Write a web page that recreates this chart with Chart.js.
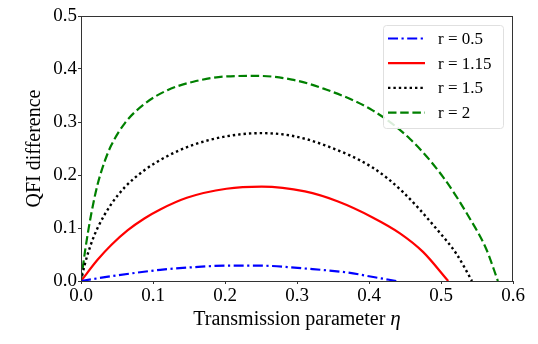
<!DOCTYPE html>
<html lang="en">
<head>
    <meta charset="UTF-8">
    <title>QFI difference</title>
    <script src="https://cdn.jsdelivr.net/npm/chart.js"></script>
    <style>
        html, body { margin: 0; padding: 0; background: #fff; }
        #wrap { width: 538px; height: 344px; }
    </style>
</head>
<body>
    <div id="wrap"><canvas id="qfiChart" width="538" height="344"></canvas></div>

    <script>
        // values
        const xTicks = [0, 0.1, 0.2, 0.3, 0.4, 0.5, 0.6];
        const yTicks = [0, 0.1, 0.2, 0.3, 0.4, 0.5];

        const etaR05 = [0, 0.042, 0.11, 0.156, 0.204, 0.246, 0.316, 0.37, 0.408, 0.438];
        const qfiR05 = [0, 0.009, 0.021, 0.026, 0.029, 0.029, 0.023, 0.016, 0.007, 0];

        const etaR115 = [0, 0.023, 0.042, 0.065, 0.088, 0.11, 0.147, 0.202, 0.251, 0.311, 0.357, 0.405, 0.443, 0.475, 0.51];
        const qfiR115 = [0, 0.04, 0.068, 0.096, 0.118, 0.135, 0.157, 0.174, 0.178, 0.169, 0.15, 0.12, 0.09, 0.055, 0];

        const etaR15 = [0, 0.005, 0.014, 0.023, 0.042, 0.061, 0.088, 0.119, 0.156, 0.202, 0.251, 0.293, 0.339, 0.405, 0.447, 0.494, 0.522, 0.543];
        const qfiR15 = [0, 0.03, 0.07, 0.1, 0.145, 0.177, 0.209, 0.235, 0.257, 0.273, 0.279, 0.274, 0.256, 0.214, 0.168, 0.098, 0.05, 0];

        const etaR2 = [0, 0.006, 0.014, 0.023, 0.033, 0.042, 0.061, 0.088, 0.12, 0.156, 0.202, 0.246, 0.293, 0.339, 0.405, 0.457, 0.503, 0.54, 0.563, 0.579];
        const qfiR2 = [0, 0.06, 0.125, 0.182, 0.226, 0.256, 0.298, 0.334, 0.36, 0.376, 0.386, 0.387, 0.38, 0.362, 0.322, 0.268, 0.196, 0.118, 0.06, 0];

        const seriesLabels = ['r = 0.5', 'r = 1.15', 'r = 1.5', 'r = 2'];

        const serif = "'Liberation Serif', 'DejaVu Serif', serif";

        function pts(xs, ys) {
            return xs.map((x, i) => ({ x: x, y: ys[i] }));
        }

        // frame round the plot, x title with italic eta, legend inside the axes
        const framePlugin = {
            id: 'frame',
            afterDraw(chart) {
                const ctx = chart.ctx;
                const a = chart.chartArea;
                ctx.save();
                ctx.strokeStyle = '#333';
                ctx.lineWidth = 1;
                ctx.strokeRect(a.left + 0.5, a.top + 0.5, a.right - a.left - 1, a.bottom - a.top);

                // x axis title
                const t1 = 'Transmission parameter ';
                const t2 = 'η';
                ctx.fillStyle = '#000';
                ctx.textBaseline = 'alphabetic';
                ctx.font = '20px ' + serif;
                const w1 = ctx.measureText(t1).width;
                ctx.font = 'italic 21px ' + serif;
                const w2 = ctx.measureText(t2).width;
                const x0 = (a.left + a.right) / 2 - (w1 + w2) / 2;
                ctx.font = '20px ' + serif;
                ctx.fillText(t1, x0, 325);
                ctx.font = 'italic 21px ' + serif;
                ctx.fillText(t2, x0 + w1, 325);

                // legend box
                const bw = 120, bh = 103;
                const bx = a.right - 10 - bw, by = a.top + 9;
                ctx.fillStyle = 'rgba(255,255,255,0.85)';
                ctx.strokeStyle = '#e0e0e0';
                ctx.beginPath();
                ctx.roundRect(bx + 0.5, by + 0.5, bw, bh, 3);
                ctx.fill();
                ctx.stroke();

                ctx.font = '17px ' + serif;
                ctx.textBaseline = 'middle';
                chart.data.datasets.forEach((ds, i) => {
                    const yy = by + 13.5 + i * 24.7;
                    ctx.beginPath();
                    ctx.setLineDash(ds.borderDash || []);
                    ctx.lineCap = 'butt';
                    ctx.strokeStyle = ds.borderColor;
                    ctx.lineWidth = ds.borderWidth;
                    ctx.moveTo(bx + 5, yy);
                    ctx.lineTo(bx + 42, yy);
                    ctx.stroke();
                    ctx.setLineDash([]);
                    ctx.fillStyle = '#000';
                    ctx.fillText(ds.label, bx + 55, yy + 1);
                });
                ctx.restore();
            }
        };

        new Chart(document.getElementById('qfiChart'), {
            type: 'line',
            data: {
                datasets: [
                    { label: seriesLabels[0], data: pts(etaR05, qfiR05), borderColor: '#0000ff', borderWidth: 2.2, borderDash: [10, 3.5, 2.2, 3.5] },
                    { label: seriesLabels[1], data: pts(etaR115, qfiR115), borderColor: '#ff0000', borderWidth: 2.2 },
                    { label: seriesLabels[2], data: pts(etaR15, qfiR15), borderColor: '#000000', borderWidth: 2.4, borderDash: [2.4, 3] },
                    { label: seriesLabels[3], data: pts(etaR2, qfiR2), borderColor: '#008000', borderWidth: 2.2, borderDash: [8.5, 3.7] }
                ]
            },
            options: {
                responsive: false,
                animation: false,
                layout: { padding: { left: 23, top: 16, right: 25, bottom: 0 } },
                elements: {
                    point: { radius: 0 },
                    line: { cubicInterpolationMode: 'monotone', fill: false }
                },
                plugins: {
                    legend: { display: false },
                    tooltip: { enabled: false }
                },
                scales: {
                    x: {
                        type: 'linear',
                        min: 0, max: 0.6,
                        afterBuildTicks: s => { s.ticks = xTicks.map(v => ({ value: v })); },
                        afterFit: s => { s.height = 344 - 281; },
                        grid: { drawOnChartArea: false, drawTicks: true, tickLength: 3, color: '#333' },
                        border: { display: true, color: '#333' },
                        ticks: {
                            color: '#000', padding: 1, maxRotation: 0,
                            font: { family: serif, size: 19 },
                            callback: v => v.toFixed(1)
                        }
                    },
                    y: {
                        min: 0, max: 0.5,
                        afterBuildTicks: s => { s.ticks = yTicks.map(v => ({ value: v })); },
                        afterFit: s => { s.width = 81 - 23; },
                        grid: { drawOnChartArea: false, drawTicks: true, tickLength: 3, color: '#333' },
                        border: { display: true, color: '#333' },
                        ticks: {
                            color: '#000', padding: 1,
                            font: { family: serif, size: 19 },
                            callback: v => v.toFixed(1)
                        },
                        title: {
                            display: true,
                            text: 'QFI difference',
                            color: '#000',
                            font: { family: serif, size: 20 },
                            padding: { top: 0, bottom: 0 }
                        }
                    }
                }
            },
            plugins: [framePlugin]
        });
    </script>
</body>
</html>
